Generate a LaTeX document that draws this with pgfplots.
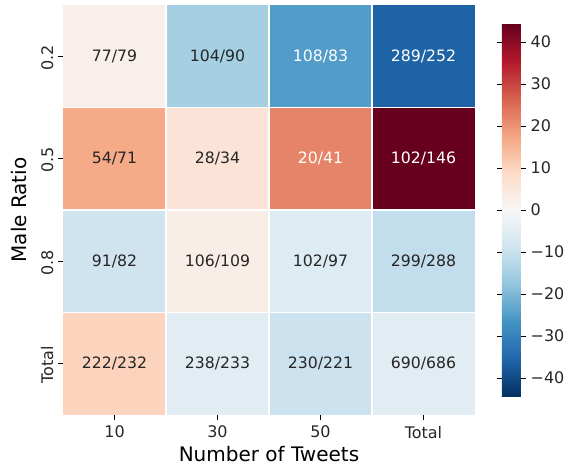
\documentclass[border=0pt]{standalone}
\usepackage{fontspec}
\setmainfont{DejaVu Sans}
\usepackage{pgfplots}
\usepackage{pgfplotstable}
\pgfplotsset{compat=1.18}
\definecolor{annot}{HTML}{262626}
\pgfplotstableread{
x y v
0 0 2.5
1 0 -15
2 0 -25
3 0 -36
0 1 17
1 1 6
2 1 22
3 1 44.5
0 2 -9
1 2 3
2 2 -6
3 2 -11
0 3 10
1 3 -5
2 3 -9.5
3 3 -5
}\heat
\pgfplotstableread{
x y lab
0 0 77/79
1 0 104/90
0 1 54/71
1 1 28/34
0 2 91/82
1 2 106/109
2 2 102/97
3 2 299/288
0 3 222/232
1 3 238/233
2 3 230/221
3 3 690/686
}\darklab
\pgfplotstableread{
x y lab
2 0 108/83
3 0 289/252
2 1 20/41
3 1 102/146
}\whitelab
\begin{document}
\begin{tikzpicture}
\begin{axis}[
  name=hm,
  scale only axis,
  width=296.6pt, height=295.2pt,
  xmin=-0.5, xmax=3.5, ymin=-0.5, ymax=3.5,
  y dir=reverse,
  axis x line*=bottom, axis y line*=left,
  axis line style={draw=none},
  xtick={0,1,2,3}, xticklabels={10,30,50,Total},
  ytick={0,1,2,3}, yticklabels={0.2,0.5,0.8,Total},
  tick align=outside,
  major tick length=3.5pt,
  tick style={black, line width=0.6pt},
  xticklabel style={font=\fontsize{11.5}{13}\selectfont, text=annot, yshift=-1pt},
  yticklabel style={font=\fontsize{11.5}{13}\selectfont, text=annot, rotate=90, anchor=south, xshift=-1pt},
  xlabel={Number of Tweets}, ylabel={Male Ratio},
  xlabel style={font=\fontsize{14.4}{16}\selectfont, yshift=1pt},
  ylabel style={font=\fontsize{14.4}{16}\selectfont, yshift=3pt},
  colormap={rdbur}{rgb255=(5,48,97) rgb255=(33,102,172) rgb255=(67,147,195) rgb255=(146,197,222) rgb255=(209,229,240) rgb255=(247,247,247) rgb255=(253,219,199) rgb255=(244,165,130) rgb255=(214,96,77) rgb255=(178,24,43) rgb255=(103,0,31)},
  point meta min=-44.3, point meta max=44.3,
  colorbar,
  colorbar style={
    at={(parent axis.east)}, anchor=west, xshift=10.9pt,
    width=13.7pt, height=268pt,
    axis line style={draw=none},
    ytick={-40,-30,-20,-10,0,10,20,30,40},
    yticklabels={−40,−30,−20,−10,0,10,20,30,40},
    yticklabel pos=right,
    tick align=outside,
    major tick length=3.5pt,
    tick style={black, line width=0.6pt},
    yticklabel style={font=\fontsize{11.5}{13}\selectfont, text=annot},
  },
]
\addplot[matrix plot*, mesh/cols=4, point meta=explicit] table[x=x, y=y, meta=v] {\heat};
\draw[white, line width=1.1pt] (axis cs:0.5,-0.5) -- (axis cs:0.5,3.5);
\draw[white, line width=1.1pt] (axis cs:1.5,-0.5) -- (axis cs:1.5,3.5);
\draw[white, line width=1.1pt] (axis cs:2.5,-0.5) -- (axis cs:2.5,3.5);
\draw[white, line width=1.1pt] (axis cs:-0.5,0.5) -- (axis cs:3.5,0.5);
\draw[white, line width=1.1pt] (axis cs:-0.5,1.5) -- (axis cs:3.5,1.5);
\draw[white, line width=1.1pt] (axis cs:-0.5,2.5) -- (axis cs:3.5,2.5);
\addplot[only marks, mark=none, point meta=explicit symbolic,
  nodes near coords, nodes near coords align=center,
  every node near coord/.style={font=\fontsize{11.3}{13}\selectfont, text=annot, anchor=center}]
  table[x=x, y=y, meta=lab] {\darklab};
\addplot[only marks, mark=none, point meta=explicit symbolic,
  nodes near coords, nodes near coords align=center,
  every node near coord/.style={font=\fontsize{11.3}{13}\selectfont, text=white, anchor=center}]
  table[x=x, y=y, meta=lab] {\whitelab};
\end{axis}
\pgfresetboundingbox
\path (hm.south west) ++(-45.4pt,-36.7pt) coordinate (bl);
\path (hm.south west) ++(365.8pt,298.8pt) coordinate (tr);
\path[use as bounding box] (bl) rectangle (tr);
\end{tikzpicture}
\end{document}
